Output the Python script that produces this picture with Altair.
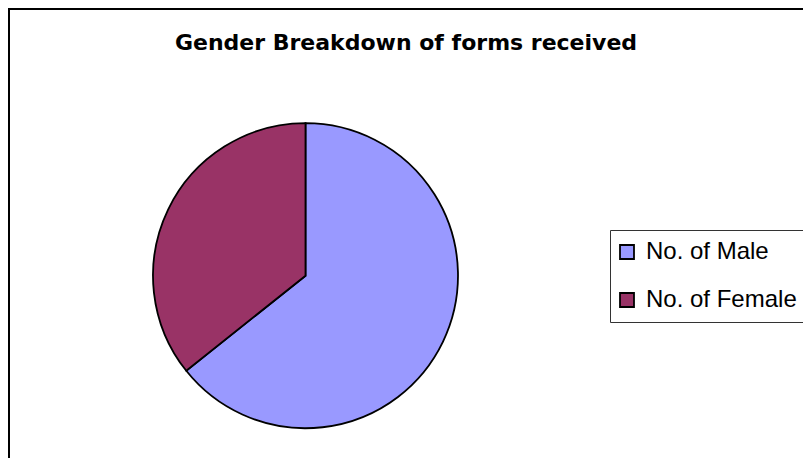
import altair as alt
import pandas as pd

# Data
categories = ["No. of Male", "No. of Female"]
values = [45, 25]
slice_order = [0, 1]
colors = ["#9999FF", "#993366"]
title_text = ["Gender Breakdown of forms received"]

df = pd.DataFrame({"gender": categories, "count": values, "ord": slice_order})
title_df = pd.DataFrame({"t": title_text})
frame_df = pd.DataFrame({"k": [0]})

W, H = 795, 450

pie = alt.Chart(df).mark_arc(
    radius=152.5, stroke="black", strokeWidth=1.8
).encode(
    theta=alt.Theta("count:Q", stack=True),
    color=alt.Color(
        "gender:N",
        scale=alt.Scale(domain=categories, range=colors),
        legend=alt.Legend(
            title=None,
            orient="none",
            legendX=602,
            legendY=222,
            symbolType="square",
            symbolSize=196,
            symbolStrokeColor="black",
            symbolStrokeWidth=1.8,
            symbolOpacity=1,
            symbolOffset=-5,
            labelFont="Liberation Sans",
            labelFontSize=24,
            labelColor="black",
            labelLimit=400,
            labelOffset=7,
            rowPadding=24,
            padding=10,
            strokeColor="#333333",
            fillColor="white",
        ),
    ),
    order=alt.Order("ord:Q"),
    x=alt.value(297.5),
    y=alt.value(267.7),
)

title = alt.Chart(title_df).mark_text(
    font="DejaVu Sans", fontWeight="bold", fontSize=22,
    align="center", baseline="alphabetic", color="black"
).encode(
    text="t:N",
    x=alt.value(398),
    y=alt.value(41.5),
)

left_line = alt.Chart(frame_df).mark_rule(color="black", strokeWidth=2).encode(
    x=alt.value(1), y=alt.value(0), y2=alt.value(H)
)
top_line = alt.Chart(frame_df).mark_rule(color="black", strokeWidth=2).encode(
    x=alt.value(0), x2=alt.value(W), y=alt.value(1)
)

chart = alt.layer(left_line, top_line, pie, title).properties(
    width=W, height=H,
    autosize=alt.AutoSizeParams(type="none"),
    padding=0,
    background="white",
).configure_view(stroke=None)

chart.save("out.html", embed_options={"renderer": "svg", "actions": False})
